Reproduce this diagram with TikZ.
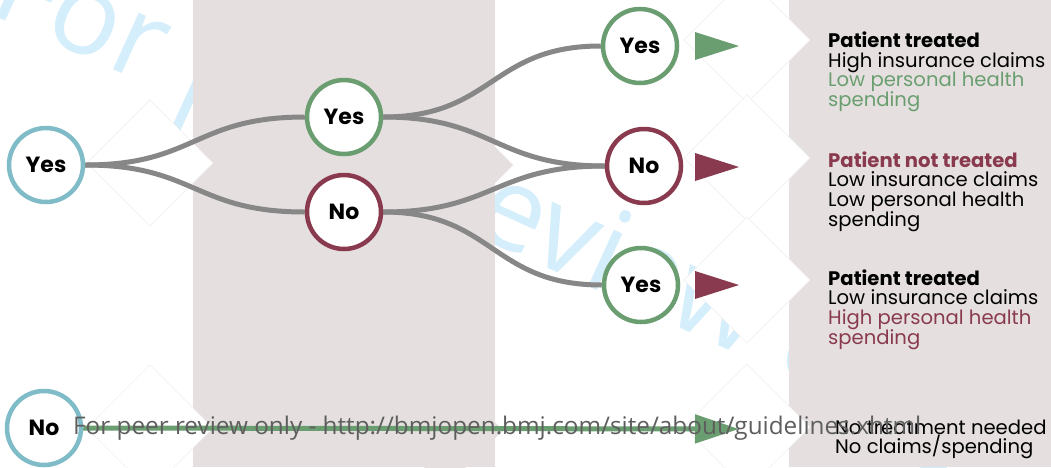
\documentclass[tikz,border=0pt]{standalone}
\usepackage{fontspec}
\setmainfont{Poppins}
\newfontfamily\opensans{Open Sans}
\usetikzlibrary{arrows.meta}
\definecolor{colgray}{HTML}{E5E0DF}
\definecolor{teal1}{HTML}{7FBCC7}
\definecolor{green1}{HTML}{6A9E70}
\definecolor{maroon1}{HTML}{8A3A4E}
\definecolor{linegray}{HTML}{878787}
\definecolor{wmblue}{HTML}{D5EEFB}
\definecolor{foot}{HTML}{5E5E5E}
\pgfdeclarelayer{bg}
\pgfdeclarelayer{lines}
\pgfdeclarelayer{fg}
\pgfsetlayers{bg,lines,main,fg}
\begin{document}
\begin{tikzpicture}[x=1pt,y=-1pt,
  circ/.style={circle, minimum size=74pt, inner sep=0pt, line width=4.5pt, fill=white,
    font=\bfseries\fontsize{22}{24}\selectfont},
  yesc/.style={circ, draw=green1},
  noc/.style={circ, draw=maroon1},
  rootc/.style={circ, draw=teal1},
  conn/.style={draw=linegray, line width=5pt},
  txt/.style={anchor=base west, inner sep=0pt, font=\fontsize{19.6}{20}\selectfont},
  btxt/.style={txt, font=\bfseries\fontsize{19.6}{20}\selectfont},
  wd/.style={fill=white, draw=black!6, line width=0.5pt},
  colfill/.style={fill=colgray}]
\useasboundingbox (0,0) rectangle (1051,467);
\clip (0,0) rectangle (1051,467);
\begin{pgfonlayer}{bg}
  \fill[white] (0,0) rectangle (1051,467);
  \node[anchor=base west, inner sep=0pt, rotate=-24.5, text=wmblue,
        font=\opensans\fontsize{116}{116}\selectfont] (wmk) at (-14,12) {For peer review only};
  \fill[colfill] (193,0) rectangle (495,467);
  \fill[colfill] (789,0) rectangle (1051,467);
  \fill[colfill] (450,102) -- (513,165) -- (450,228) -- (387,165) -- cycle;
  \fill[colfill] (445,372) -- (503,430) -- (445,488) -- (387,430) -- cycle;
  \filldraw[wd] (87,163) -- (150,100) -- (213,163) -- (150,226) -- cycle;
  \filldraw[wd] (87,428) -- (150,365) -- (213,428) -- (150,491) -- cycle;
  \filldraw[wd] (684,40) -- (747,-23) -- (810,40) -- (747,103) -- cycle;
  \filldraw[wd] (684,158) -- (747,95) -- (810,158) -- (747,221) -- cycle;
  \filldraw[wd] (684,280) -- (747,217) -- (810,280) -- (747,343) -- cycle;
  \filldraw[wd] (684,427) -- (747,364) -- (810,427) -- (747,490) -- cycle;
\end{pgfonlayer}

\node[rootc] (ryes) at (46,165) {Yes};
\node[rootc] (rno) at (44,428) {No};
\node[yesc] (y2) at (344,117) {Yes};
\node[noc] (n2) at (344,212) {No};
\node[yesc] (y3a) at (640,46) {Yes};
\node[noc] (n3) at (644,166) {No};
\node[yesc] (y3c) at (641,285) {Yes};

\begin{pgfonlayer}{lines}
  \draw[conn] (ryes.east) .. controls +(110,0) and +(-110,0) .. (y2.west);
  \draw[conn] (ryes.east) .. controls +(110,0) and +(-110,0) .. (n2.west);
  \draw[conn] (y2.east) .. controls +(110,0) and +(-110,0) .. (y3a.west);
  \draw[conn] (y2.east) .. controls +(110,0) and +(-110,0) .. (n3.west);
  \draw[conn] (n2.east) .. controls +(110,0) and +(-110,0) .. (n3.west);
  \draw[conn] (n2.east) .. controls +(110,0) and +(-110,0) .. (y3c.west);
  \coordinate (a4) at (739,429);
  \draw[draw=green1, line width=5pt, -{Triangle[length=44pt,width=28pt]}] (rno.east) -- (a4);
\end{pgfonlayer}

\fill[green1] (695,32) -- (739,46) -- (695,60) -- cycle;
\fill[maroon1] (695,153) -- (739,167) -- (695,181) -- cycle;
\fill[maroon1] (695,271) -- (739,285) -- (695,299) -- cycle;

\node[btxt] (t1a) at (828,47.5) {Patient treated};
\node[txt] (t1b) at (828,67.2) {High insurance claims};
\node[txt, text=green1] (t1c) at (828,86.9) {Low personal health};
\node[txt, text=green1] (t1d) at (828,106.6) {spending};

\node[btxt, text=maroon1] (t2a) at (828,167) {Patient not treated};
\node[txt] (t2b) at (828,186.7) {Low insurance claims};
\node[txt] (t2c) at (828,206.4) {Low personal health};
\node[txt] (t2d) at (828,226.1) {spending};

\node[btxt] (t3a) at (828,285) {Patient treated};
\node[txt] (t3b) at (828,304.7) {Low insurance claims};
\node[txt, text=maroon1] (t3c) at (828,324.4) {High personal health};
\node[txt, text=maroon1] (t3d) at (828,344.1) {spending};

\node[txt] (t4a) at (835,434) {No treatment needed};
\node[txt] (t4b) at (835,453.7) {No claims/spending};

\begin{pgfonlayer}{fg}
  \node[anchor=base west, inner sep=0pt, text=foot,
        font=\opensans\fontsize{24.3}{26}\selectfont] (footer) at (73,434)
        {For peer review only - http://bmjopen.bmj.com/site/about/guidelines.xhtml};
\end{pgfonlayer}
\end{tikzpicture}
\end{document}
